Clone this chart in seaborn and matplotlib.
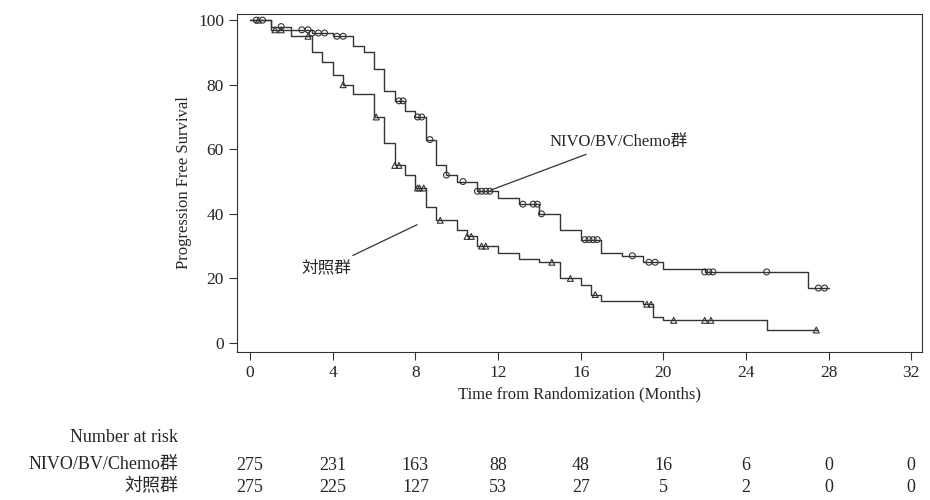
import matplotlib
matplotlib.use("Agg")
import matplotlib.pyplot as plt
import matplotlib.transforms as mtransforms
import seaborn as sns
import pandas as pd

sns.set_style("ticks")
plt.rcParams['font.family'] = ['Liberation Serif', 'Noto Sans CJK SC']

nivo_t = [0,1,2,3,4,5,5.5,6,6.5,7,7.5,8,8.5,9,9.5,10,11,12,13,14,15,16,17,18,19,20,22,25,27,28]
nivo_s = [100,98,97,96,95,92,90,85,78,75,72,70,63,55,52,50,47,45,43,40,35,32,28,27,25,23,22,22,17,17]
ctrl_t = [0,1,2,3,3.5,4,4.5,5,6,6.5,7,7.5,8,8.5,9,10,10.5,11,12,13,14,15,16,16.5,17,19,19.5,20,22,25,27.5]
ctrl_s = [100,97,95,90,87,83,80,77,70,62,55,52,48,42,38,35,33,30,28,26,25,20,18,15,13,12,8,7,7,4,4]
nivo_cens_t = [0.3,0.6,1.5,2.5,2.8,3,3.3,3.6,4.2,4.5,7.2,7.4,8.1,8.3,8.7,9.5,10.3,11,11.2,11.4,11.6,
               13.2,13.7,13.9,14.1,16.2,16.4,16.6,16.8,18.5,19.3,19.6,22,22.2,22.4,25,27.5,27.8]
ctrl_cens_t = [0.4,1.2,1.5,2.8,4.5,6.1,7,7.2,8.1,8.2,8.4,9.2,10.5,10.7,11.2,11.4,14.6,15.5,16.7,
               19.2,19.4,20.5,22,22.3,27.4]
ticks = [0,4,8,12,16,20,24,28,32]
risk_nivo = [275,231,163,88,48,16,6,0,0]
risk_ctrl = [275,225,127,53,27,5,2,0,0]

def surv_at(ts, ss, t):
    v = ss[0]
    for a, b in zip(ts, ss):
        if a <= t:
            v = b
    return v

fig = plt.figure(figsize=(9.3, 5.0), dpi=100)
ax = fig.add_axes([0.255, 0.296, 0.736, 0.676])
df = pd.concat([pd.DataFrame({'t': nivo_t, 's': nivo_s, 'g': 'NIVO'}),
                pd.DataFrame({'t': ctrl_t, 's': ctrl_s, 'g': 'ctrl'})])
sns.lineplot(data=df, x='t', y='s', hue='g', palette=['#333333', '#333333'],
             drawstyle='steps-post', lw=1, legend=False, ax=ax, estimator=None)
ax.scatter(nivo_cens_t, [surv_at(nivo_t, nivo_s, t) for t in nivo_cens_t], marker='o',
           s=18, facecolors='none', edgecolors='#333333', lw=0.8, zorder=3)
ax.scatter(ctrl_cens_t, [surv_at(ctrl_t, ctrl_s, t) for t in ctrl_cens_t], marker='^',
           s=18, facecolors='none', edgecolors='#333333', lw=0.8, zorder=3)

ax.set_xlim(-0.63, 32.5)
ax.set_ylim(-2.8, 101.9)
ax.set_xticks(ticks)
ax.set_yticks([0,20,40,60,80,100])
ax.tick_params(labelsize=12.5, color='#333333', length=6)
ax.set_xlabel('Time from Randomization (Months)', fontsize=12)
ax.set_ylabel('Progression Free Survival', fontsize=12)
for s in ax.spines.values():
    s.set_visible(True); s.set_color('#333333')

ax.annotate('NIVO/BV/Chemo群', xy=(11.5, 47), xytext=(14.5, 61), fontsize=12,
            arrowprops=dict(arrowstyle='-', color='#333333', lw=0.9))
ax.annotate('対照群', xy=(8.2, 37), xytext=(2.5, 22), fontsize=12,
            arrowprops=dict(arrowstyle='-', color='#333333', lw=0.9))

tr = mtransforms.blended_transform_factory(ax.transData, fig.transFigure)
fig.text(178/930, 1-437/500, 'Number at risk', ha='right', va='center', fontsize=13)
fig.text(178/930, 1-465/500, 'NIVO/BV/Chemo群', ha='right', va='center', fontsize=13)
fig.text(178/930, 1-487/500, '対照群', ha='right', va='center', fontsize=13)
for t, a, b in zip(ticks, risk_nivo, risk_ctrl):
    ax.text(t, 1-465/500, str(a), transform=tr, ha='center', va='center', fontsize=13, clip_on=False)
    ax.text(t, 1-487/500, str(b), transform=tr, ha='center', va='center', fontsize=13, clip_on=False)

fig.savefig('out.png', dpi=100)
